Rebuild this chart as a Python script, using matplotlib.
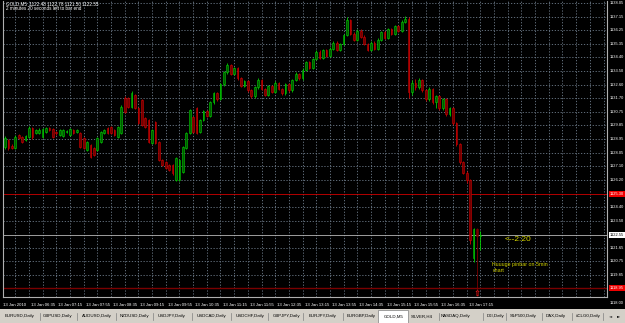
import matplotlib
matplotlib.use("Agg")
import matplotlib.pyplot as plt
import matplotlib.transforms as mtrans
from matplotlib.patches import Rectangle

W, H = 625, 323
FONT = ["Liberation Sans", "DejaVu Sans"]

# ---------------- data (GOLD, M5, 13 Jan 2010, 06:00 .. 17:35) ----------------
opens = [1128.42, 1128.88, 1128.48, 1128.35, 1129.22, 1129.08, 1128.88, 1129.08, 1129.69, 1129.35,
         1129.35, 1129.08, 1129.42, 1129.69, 1129.62, 1129.40, 1129.22, 1129.15, 1129.42, 1129.22,
         1129.55, 1129.42, 1129.35, 1129.02, 1128.22, 1128.55, 1128.35, 1128.22, 1128.75, 1129.35,
         1129.69, 1129.75, 1129.55, 1129.08, 1129.35, 1131.69, 1131.69, 1131.09, 1131.89, 1131.02,
         1131.56, 1130.36, 1130.22, 1128.68, 1130.09, 1128.75, 1127.55, 1127.41, 1127.21, 1127.21,
         1126.21, 1126.21, 1126.74, 1128.35, 1129.35, 1130.42, 1131.02, 1129.42, 1130.22, 1130.80,
         1130.50, 1131.40, 1132.00, 1131.60, 1132.60, 1133.40, 1133.90, 1133.30, 1133.70, 1133.00,
         1132.50, 1132.80, 1132.20, 1131.80, 1132.40, 1132.90, 1132.30, 1131.90, 1132.50, 1132.10,
         1132.70, 1132.30, 1132.00, 1132.60, 1132.20, 1132.90, 1133.30, 1133.00, 1133.60, 1134.10,
         1133.70, 1134.30, 1134.80, 1134.40, 1134.90, 1134.50, 1135.00, 1135.40, 1134.90, 1135.30,
         1135.90, 1136.90, 1136.00, 1135.60, 1136.20, 1135.80, 1135.30, 1134.90, 1135.40, 1135.00,
         1135.60, 1136.10, 1135.70, 1136.30, 1136.00, 1136.50, 1136.20, 1136.80, 1137.00, 1132.10,
         1132.70, 1132.40, 1132.90, 1132.20, 1131.60, 1132.30, 1131.40, 1131.80, 1131.00, 1131.60,
         1130.60, 1131.00, 1130.00, 1128.60, 1127.40, 1126.70, 1126.20, 1121.00, 1122.90, 1122.48]
highs = [1129.15, 1128.95, 1128.60, 1129.20, 1129.30, 1129.15, 1129.22, 1129.80, 1129.75, 1129.62,
         1129.66, 1129.70, 1129.78, 1129.75, 1129.70, 1129.48, 1129.60, 1129.64, 1129.56, 1129.70,
         1129.62, 1129.62, 1129.42, 1129.10, 1128.82, 1128.62, 1128.42, 1129.10, 1129.50, 1129.62,
         1129.78, 1129.82, 1129.62, 1129.82, 1131.20, 1131.80, 1131.78, 1132.15, 1131.98, 1131.10,
         1131.62, 1130.45, 1130.30, 1129.62, 1130.15, 1128.82, 1127.62, 1127.48, 1127.30, 1127.28,
         1127.75, 1127.62, 1128.50, 1129.42, 1130.98, 1130.50, 1131.10, 1130.30, 1130.90, 1130.88,
         1131.50, 1132.10, 1132.08, 1132.70, 1133.50, 1134.05, 1133.98, 1133.80, 1133.78, 1133.08,
         1132.90, 1132.88, 1132.28, 1132.48, 1133.00, 1132.98, 1132.38, 1132.58, 1132.58, 1132.80,
         1132.78, 1132.38, 1132.68, 1132.68, 1132.98, 1133.40, 1133.38, 1133.70, 1134.20, 1134.18,
         1134.40, 1134.90, 1134.88, 1135.00, 1134.98, 1135.10, 1135.50, 1135.48, 1135.40, 1136.00,
         1137.10, 1137.00, 1136.08, 1136.30, 1136.28, 1135.88, 1135.38, 1135.48, 1135.48, 1135.70,
         1136.20, 1136.18, 1136.40, 1136.38, 1136.60, 1136.58, 1136.90, 1137.20, 1137.08, 1132.90,
         1132.95, 1133.00, 1132.98, 1132.28, 1132.40, 1132.38, 1131.90, 1131.88, 1131.70, 1131.68,
         1131.10, 1131.08, 1130.08, 1128.68, 1127.48, 1126.78, 1126.28, 1123.00, 1123.00, 1122.78]
lows = [1128.30, 1128.22, 1128.28, 1128.30, 1128.95, 1128.68, 1128.80, 1129.02, 1128.98, 1129.28,
        1129.30, 1129.02, 1129.38, 1129.48, 1129.00, 1129.25, 1129.15, 1129.10, 1129.36, 1129.18,
        1129.30, 1129.38, 1128.35, 1128.25, 1128.15, 1127.65, 1127.80, 1128.15, 1128.70, 1129.30,
        1129.28, 1129.30, 1129.15, 1129.02, 1129.30, 1130.70, 1131.00, 1131.02, 1130.95, 1129.95,
        1129.80, 1129.70, 1128.68, 1128.60, 1128.60, 1127.48, 1127.15, 1126.95, 1126.80, 1126.55,
        1126.15, 1126.15, 1126.68, 1128.28, 1129.28, 1129.35, 1129.28, 1129.35, 1130.15, 1130.42,
        1130.45, 1131.32, 1131.52, 1131.55, 1132.52, 1133.32, 1133.22, 1133.22, 1132.92, 1132.42,
        1132.42, 1132.12, 1131.72, 1131.72, 1132.32, 1132.22, 1131.82, 1131.85, 1132.02, 1132.02,
        1132.22, 1131.92, 1131.92, 1132.12, 1132.12, 1132.82, 1132.92, 1132.92, 1133.52, 1133.62,
        1133.62, 1134.22, 1134.32, 1134.32, 1134.42, 1134.42, 1134.92, 1134.82, 1134.82, 1135.22,
        1135.82, 1135.92, 1135.52, 1135.52, 1135.72, 1135.22, 1134.82, 1134.82, 1134.92, 1134.92,
        1135.52, 1135.62, 1135.62, 1135.92, 1135.92, 1136.12, 1136.12, 1136.72, 1131.70, 1131.90,
        1132.20, 1132.32, 1132.12, 1131.50, 1131.52, 1131.30, 1131.00, 1130.90, 1130.92, 1130.50,
        1130.52, 1129.90, 1128.50, 1127.30, 1126.60, 1126.00, 1121.90, 1120.70, 1118.45, 1121.50]
closes = [1129.02, 1128.35, 1128.35, 1129.08, 1129.02, 1128.75, 1129.15, 1129.69, 1129.08, 1129.55,
          1129.55, 1129.62, 1129.69, 1129.55, 1129.08, 1129.32, 1129.55, 1129.55, 1129.49, 1129.62,
          1129.35, 1129.55, 1128.42, 1128.35, 1128.75, 1127.75, 1127.88, 1129.02, 1129.42, 1129.55,
          1129.35, 1129.35, 1129.22, 1129.75, 1131.09, 1130.76, 1131.09, 1132.03, 1131.02, 1130.02,
          1129.89, 1129.75, 1128.75, 1129.55, 1128.68, 1127.55, 1127.21, 1127.01, 1126.88, 1126.68,
          1127.68, 1127.55, 1128.42, 1129.35, 1130.89, 1129.42, 1129.35, 1130.22, 1130.80, 1130.50,
          1131.40, 1132.00, 1131.60, 1132.60, 1133.40, 1133.90, 1133.30, 1133.70, 1133.00, 1132.50,
          1132.80, 1132.20, 1131.80, 1132.40, 1132.90, 1132.30, 1131.90, 1132.50, 1132.10, 1132.70,
          1132.30, 1132.00, 1132.60, 1132.20, 1132.90, 1133.30, 1133.00, 1133.60, 1134.10, 1133.70,
          1134.30, 1134.80, 1134.40, 1134.90, 1134.50, 1135.00, 1135.40, 1134.90, 1135.30, 1135.90,
          1136.90, 1136.00, 1135.60, 1136.20, 1135.80, 1135.30, 1134.90, 1135.40, 1135.00, 1135.60,
          1136.10, 1135.70, 1136.30, 1136.00, 1136.50, 1136.20, 1136.80, 1137.00, 1132.10, 1132.70,
          1132.40, 1132.90, 1132.20, 1131.60, 1132.30, 1131.40, 1131.80, 1131.00, 1131.60, 1130.60,
          1131.00, 1130.00, 1128.60, 1127.40, 1126.70, 1126.20, 1122.20, 1122.90, 1122.48, 1122.55]
pin_bar_index = 138

time_labels = ["13 Jan 2010", "13 Jan 06:35", "13 Jan 07:15", "13 Jan 07:55", "13 Jan 08:35",
               "13 Jan 09:15", "13 Jan 09:55", "13 Jan 10:35", "13 Jan 11:15", "13 Jan 11:55",
               "13 Jan 12:35", "13 Jan 13:15", "13 Jan 13:55", "13 Jan 14:35", "13 Jan 15:15",
               "13 Jan 15:55", "13 Jan 16:35", "13 Jan 17:15"]
time_label_bars = [0, 7, 15, 23, 31, 39, 47, 55, 63, 71, 79, 87, 95, 103, 111, 119, 127, 135]

price_ticks = [1138.05, 1137.14, 1136.23, 1135.32, 1134.41, 1133.50, 1132.59, 1131.68, 1130.77,
               1129.86, 1128.95, 1128.04, 1127.13, 1126.22, 1124.40, 1123.49, 1121.67,
               1120.76, 1119.85, 1118.00]
price_tick_labels = ["1138.05", "1137.15", "1136.25", "1135.35", "1134.40", "1133.50", "1132.60",
                     "1131.70", "1130.75", "1129.85", "1128.95", "1128.05", "1127.10", "1126.20",
                     "1124.40", "1123.50", "1121.65", "1120.75", "1119.85", "1118.00"]

bid_price = 1122.55
red_levels = [1125.30, 1118.95]
red_level_labels = ["1125.30", "1118.95"]

header_line1 = "GOLD,M5  1122.48 1122.78 1121.50 1122.55"
header_line2 = "2 minutes 20 seconds left to bar end"
note_arrow = "<--2:20"
note_text = "Huuuge pinbar on 5min\nchart"

tabs = ["EURUSD,Daily", "GBPUSD,Daily", "AUDUSD,Daily", "NZDUSD,Daily", "USDJPY,Daily",
        "USDCAD,Daily", "USDCHF,Daily", "GBPJPY,Daily", "EURJPY,Daily", "EURGBP,Daily",
        "GOLD,M5", "SILVER,H4", "NASDAQ,Daily", "DJI,Daily", "S&P500,Daily", "DAX,Daily",
        "#CLG0,Daily"]

# ---------------- layout helpers (pixel space) ----------------
fig = plt.figure(figsize=(W / 100, H / 100), dpi=100, facecolor="black")


def pax(x0, y0, x1, y1):
    return fig.add_axes([x0 / W, 1 - y1 / H, (x1 - x0) / W, (y1 - y0) / H])


X0, DX = 5.0, 3.42          # pixel of bar 0, pixels per bar
P0, DP = 1138.25, 0.0669     # price at pixel row 0, price per pixel
AX_L, AX_T, AX_R, AX_B = 3, 1, 607, 297

ax = pax(AX_L, AX_T, AX_R, AX_B)
ax.set_facecolor("black")
ax.set_xlim((AX_L - X0) / DX, (AX_R - X0) / DX)
ax.set_ylim(P0 - AX_B * DP, P0 - AX_T * DP)
ax.set_xticks([])
ax.set_yticks([])
ax.spines["top"].set_visible(False)
for s in ["left", "right", "bottom"]:
    ax.spines[s].set_color("#b0b0b0")
    ax.spines[s].set_linewidth(0.8)

grid_kw = dict(color="#6f7d8c", lw=0.6, ls=(0, (1.5, 2.0)), zorder=0)
for p in price_ticks:
    ax.axhline(p, **grid_kw)
for b in range(3, 176, 4):
    ax.axvline(b, **grid_kw)

# special horizontal levels
ax.axhline(bid_price, color="#b8b8b8", lw=0.6, zorder=1)
ax.axhline(red_levels[0], color="#d00000", lw=0.6, zorder=1)
ax.axhline(red_levels[1], color="#7a0000", lw=1.0, zorder=1)

# candles
UP, DN = "#00d000", "#d00000"
UPF, DNF = "#005a00", "#700000"
for i, (o, h, l, c) in enumerate(zip(opens, highs, lows, closes)):
    if i == pin_bar_index:
        edge, face = "#7a0000", "#7a0000"
    elif c >= o:
        edge, face = UP, UPF
    else:
        edge, face = DN, DNF
    ax.vlines(i, l, h, color=edge, lw=0.6, zorder=3)
    lo, hi = min(o, c), max(o, c)
    if hi - lo < 0.03:
        ax.hlines(o, i - 0.25, i + 0.25, color=edge, lw=0.6, zorder=4)
    else:
        ax.add_patch(Rectangle((i - 0.25, lo), 0.5, hi - lo, facecolor=face,
                               edgecolor=edge, lw=0.4, zorder=4))

# arrow under the pin bar
ax.text(pin_bar_index, 1118.62, "\u21e7", color="#ff2020", fontsize=6, ha="center",
        va="center", family=["DejaVu Sans"], zorder=6, clip_on=False)

# price scale labels
ytr = mtrans.blended_transform_factory(ax.transAxes, ax.transData)
LX = 1.0045
for p, lab in zip(price_ticks, price_tick_labels):
    ax.text(LX, p, lab, transform=ytr, fontsize=2.9, color="white", va="center",
            ha="left", family=FONT, clip_on=False)
ax.text(LX, bid_price, "1122.55", transform=ytr, fontsize=2.9, color="black", va="center",
        ha="left", family=FONT, clip_on=False,
        bbox=dict(boxstyle="square,pad=0.25", fc="white", ec="none"))
for p, lab in zip(red_levels, red_level_labels):
    ax.text(LX, p, lab, transform=ytr, fontsize=2.9, color="white", va="center",
            ha="left", family=FONT, clip_on=False,
            bbox=dict(boxstyle="square,pad=0.25", fc="#ee0000", ec="none"))

# time labels
xtr = mtrans.blended_transform_factory(ax.transData, fig.transFigure)
for b, lab in zip(time_label_bars, time_labels):
    ax.text(b + 0.6 if b else -0.5, 1 - 304.5 / H, lab, transform=xtr, fontsize=3.1,
            color="white", va="center", ha="left", family=FONT, clip_on=False)

# header
fig.text(6 / W, 1 - 4 / H, header_line1, fontsize=3.3, color="white", va="center",
         ha="left", family=FONT)
fig.text(6 / W, 1 - 9 / H, header_line2, fontsize=3.3, color="white", va="center",
         ha="left", family=FONT)

# annotations
ax.text(146, 1122.25, note_arrow, color="#d6d600", fontsize=6, ha="left", va="center",
        family=FONT, zorder=6)
ax.text(142.5, 1120.35, note_text, color="#d6d600", fontsize=3.8, ha="left", va="center",
        family=FONT, linespacing=1.3, zorder=6)

# tab bar
tb = pax(0, 309, 625, 323)
tb.set_xlim(0, 625)
tb.set_ylim(14, 0)
tb.set_facecolor("#d4d0c8")
tb.set_xticks([])
tb.set_yticks([])
for s in tb.spines.values():
    s.set_visible(False)
tab_x = [5, 43, 82, 120, 158, 197, 236, 273, 309, 347, 384, 411, 441, 487, 510, 546, 576]
sep_x = [40, 77, 116, 153, 192, 231, 268, 303, 343, 439, 483, 506, 542, 572, 603]
for s in sep_x:
    tb.plot([s, s], [3.5, 11], color="#808080", lw=0.5)
tb.add_patch(Rectangle((378, 0.5), 30, 13, fc="white", ec="#808080", lw=0.5))
for x, t in zip(tab_x, tabs):
    tb.text(x, 7.2, t, fontsize=3.2, color="black", va="center", ha="left", family=FONT)
tb.text(611, 7.2, "\u25c4", fontsize=3.0, color="#404040", va="center", ha="center",
        family=["DejaVu Sans"])
tb.text(619, 7.2, "\u25ba", fontsize=3.0, color="black", va="center", ha="center",
        family=["DejaVu Sans"])

fig.savefig("out.png", dpi=100, facecolor="black")
